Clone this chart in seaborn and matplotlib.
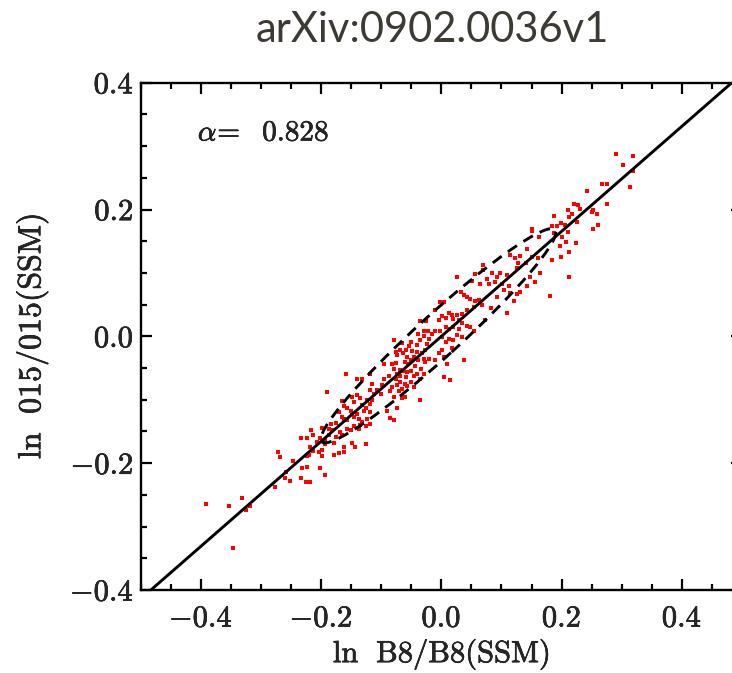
import matplotlib
matplotlib.use("Agg")
import matplotlib.pyplot as plt
import matplotlib.patheffects as pe
from matplotlib.patches import Ellipse
from matplotlib.ticker import MultipleLocator, FixedLocator, FixedFormatter
import seaborn as sns
import pandas as pd
import numpy as np

# ---------------- data ----------------
ln_b8 = [
    # lower-left tail
    -0.198, -0.216, -0.214, -0.233, -0.224, -0.206, -0.202, -0.194, -0.219, -0.198,
    -0.204, -0.214, -0.220, -0.224, -0.199, -0.272, -0.269, -0.246, -0.231, -0.223,
    -0.202, -0.193, -0.259, -0.260, -0.251, -0.234, -0.225, -0.219, -0.276, -0.392,
    -0.353, -0.332, -0.318, -0.325, -0.347,
    # lower-middle
    -0.035, -0.025, -0.029, -0.023, -0.039, -0.079, -0.065, -0.051, -0.029, -0.021,
    -0.035, -0.054, -0.040, -0.024, -0.069, -0.058, -0.048, -0.075, -0.063, -0.040,
    -0.027, -0.032, -0.073, -0.057, -0.046, -0.029, -0.021, -0.051, -0.039, -0.096,
    -0.082, -0.075, -0.061, -0.056, -0.027, -0.043, -0.079, -0.069, -0.063, -0.057,
    -0.051, -0.040, -0.034, -0.074, -0.159, -0.118, -0.087, -0.068, -0.058, -0.046,
    -0.029, -0.051, -0.140, -0.132, -0.096, -0.076, -0.068, -0.060, -0.035, -0.115,
    -0.099, -0.082, -0.073, -0.065, -0.057, -0.046, -0.190, -0.118, -0.107, -0.085,
    -0.071, -0.148, -0.140, -0.135, -0.112, -0.101, -0.079, -0.065, -0.060, -0.165,
    -0.146, -0.123, -0.115, -0.035, -0.162, -0.157, -0.132, -0.126, -0.118, -0.151,
    -0.090, -0.073, -0.171, -0.148, -0.140, -0.129, -0.118, -0.165, -0.146, -0.085,
    -0.184, -0.162, -0.157, -0.137, -0.132, -0.118, -0.079, -0.123, -0.176, -0.146,
    -0.135, -0.126, -0.187, -0.182, -0.168, -0.157, -0.151, -0.137, -0.187, -0.176,
    -0.165, -0.193, -0.179, -0.148, -0.143, -0.126, -0.162, -0.179, -0.171, -0.162,
    # centre / upper-middle
    0.151, 0.162, 0.142, 0.131, 0.115, 0.123, 0.151, 0.160, 0.128, 0.141,
    0.125, 0.109, 0.098, 0.092, 0.084, 0.070, 0.070, 0.056, 0.026, 0.051,
    0.065, 0.076, 0.079, 0.090, 0.101, 0.112, 0.104, 0.115, 0.131, 0.126,
    0.142, 0.156, 0.148, 0.121, 0.110, 0.073, 0.083, 0.092, 0.032, 0.037,
    0.043, 0.048, 0.056, 0.062, 0.068, 0.054, 0.043, 0.034, 0.026, 0.018,
    0.007, 0.001, -0.004, -0.010, -0.002, 0.004, 0.012, 0.020, 0.029, 0.034,
    0.043, 0.048, 0.054, 0.029, 0.020, 0.012, 0.007, -0.002, -0.010, -0.016,
    0.001, 0.007, 0.012, 0.020, 0.026, 0.034, 0.018, 0.001, -0.004, 0.004,
    -0.010, 0.009, 0.037, 0.004, 0.015,
    # upper-right tail
    0.290, 0.318, 0.302, 0.318, 0.267, 0.275, 0.313, 0.243, 0.275, 0.221,
    0.228, 0.230, 0.210, 0.217, 0.212, 0.188, 0.253, 0.250, 0.259, 0.225,
    0.199, 0.192, 0.206, 0.184, 0.253, 0.260, 0.210, 0.187, 0.200, 0.208,
    0.224, 0.197, 0.213, 0.184, 0.199, 0.164, 0.212, 0.180, 0.150,
]
ln_o15 = [
    # lower-left tail
    -0.144, -0.147, -0.155, -0.161, -0.161, -0.167, -0.160, -0.163, -0.175, -0.180,
    -0.183, -0.181, -0.187, -0.189, -0.189, -0.183, -0.190, -0.196, -0.207, -0.206,
    -0.208, -0.219, -0.214, -0.223, -0.228, -0.224, -0.229, -0.230, -0.237, -0.264,
    -0.267, -0.255, -0.267, -0.274, -0.334,
    # lower-middle
    0.024, 0.024, 0.008, 0.008, 0.004, -0.005, -0.010, -0.009, 0.001, -0.004,
    -0.005, -0.016, -0.014, -0.012, -0.021, -0.022, -0.023, -0.025, -0.027, -0.025,
    -0.022, -0.027, -0.030, -0.033, -0.033, -0.035, -0.035, -0.038, -0.037, -0.043,
    -0.043, -0.042, -0.040, -0.043, -0.040, -0.046, -0.051, -0.053, -0.055, -0.056,
    -0.054, -0.059, -0.051, -0.059, -0.060, -0.060, -0.062, -0.063, -0.064, -0.062,
    -0.059, -0.072, -0.067, -0.067, -0.068, -0.068, -0.072, -0.075, -0.067, -0.075,
    -0.077, -0.080, -0.077, -0.083, -0.079, -0.080, -0.087, -0.084, -0.085, -0.086,
    -0.086, -0.095, -0.093, -0.097, -0.091, -0.091, -0.096, -0.097, -0.095, -0.102,
    -0.104, -0.101, -0.101, -0.101, -0.110, -0.113, -0.109, -0.113, -0.107, -0.117,
    -0.117, -0.113, -0.119, -0.122, -0.123, -0.118, -0.119, -0.127, -0.127, -0.128,
    -0.138, -0.131, -0.132, -0.131, -0.135, -0.138, -0.132, -0.131, -0.137, -0.142,
    -0.140, -0.142, -0.146, -0.148, -0.151, -0.146, -0.148, -0.146, -0.156, -0.159,
    -0.156, -0.170, -0.168, -0.168, -0.174, -0.170, -0.174, -0.187, -0.184, -0.182,
    # centre / upper-middle
    0.166, 0.157, 0.138, 0.126, 0.129, 0.124, 0.125, 0.123, 0.115, 0.116,
    0.107, 0.096, 0.100, 0.094, 0.100, 0.112, 0.104, 0.099, 0.094, 0.088,
    0.083, 0.091, 0.083, 0.086, 0.083, 0.080, 0.073, 0.068, 0.070, 0.067,
    0.079, 0.086, 0.094, 0.056, 0.037, 0.025, 0.044, 0.062, 0.070, 0.065,
    0.062, 0.059, 0.056, 0.057, 0.050, 0.046, 0.041, 0.036, 0.033, 0.033,
    0.029, 0.032, 0.025, 0.041, 0.054, 0.054, 0.037, 0.028, 0.025, 0.021,
    0.017, 0.014, 0.009, 0.012, 0.015, 0.011, 0.015, 0.009, 0.009, 0.004,
    -0.001, -0.009, -0.004, -0.006, 0.002, -0.001, -0.019, -0.022, -0.026, -0.033,
    -0.038, -0.043, -0.038, -0.064, -0.069,
    # upper-right tail
    0.287, 0.285, 0.271, 0.261, 0.240, 0.240, 0.236, 0.230, 0.209, 0.209,
    0.207, 0.201, 0.200, 0.193, 0.189, 0.190, 0.199, 0.196, 0.193, 0.181,
    0.179, 0.174, 0.176, 0.174, 0.169, 0.175, 0.164, 0.163, 0.156, 0.149,
    0.147, 0.143, 0.133, 0.121, 0.125, 0.100, 0.094, 0.063, 0.169,
]

alpha_fit = 0.828
# confidence ellipse (centre, full axes, tilt)
ell_center = (-0.005, 0.001)
ell_width, ell_height, ell_angle = 0.512, 0.068, 40.7

x_ticks = [-0.4, -0.2, 0.0, 0.2, 0.4]
x_tick_labels = [r"$-0.4$", r"$-0.2$", r"$0.0$", r"$0.2$", r"$0.4$"]
y_ticks = [-0.4, -0.2, 0.0, 0.2, 0.4]
y_tick_labels = [r"$-0.4$", r"$-0.2$", r"$0.0$", r"$0.2$", r"$0.4$"]

# ---------------- drawing ----------------
sns.set_style("ticks")
plt.rcParams["mathtext.fontset"] = "cm"
plt.rcParams["font.family"] = ["cmr10", "DejaVu Sans"]
plt.rcParams["axes.unicode_minus"] = False

bold = [pe.withStroke(linewidth=0.45, foreground="black")]

fig = plt.figure(figsize=(7.32, 6.73), dpi=100)
W, H = 732.0, 673.0
ax = fig.add_axes([140.7 / W, (H - 590.0) / H, 601.3 / W, 507.3 / H])

df = pd.DataFrame({"b8": ln_b8, "o15": ln_o15})
sns.scatterplot(data=df, x="b8", y="o15", ax=ax, color="#ff0000", marker="s",
                s=12, linewidth=0, zorder=3)

xl = np.array([-0.5, 0.5])
ax.plot(xl, alpha_fit * xl, color="black", lw=2.1, zorder=4)

ell = Ellipse(ell_center, ell_width, ell_height, angle=ell_angle, fill=False,
              edgecolor="black", lw=2.1, linestyle=(0, (3.8, 2.6)), zorder=5)
ax.add_patch(ell)

ax.set_xlim(-0.5, 0.5)
ax.set_ylim(-0.4, 0.4)
ax.xaxis.set_major_locator(FixedLocator(x_ticks))
ax.xaxis.set_major_formatter(FixedFormatter(x_tick_labels))
ax.yaxis.set_major_locator(FixedLocator(y_ticks))
ax.yaxis.set_major_formatter(FixedFormatter(y_tick_labels))
ax.xaxis.set_minor_locator(MultipleLocator(0.05))
ax.yaxis.set_minor_locator(MultipleLocator(0.05))
ax.tick_params(which="both", direction="in", top=True, right=True, width=1.6,
               labelsize=22, color="black")
ax.tick_params(which="major", length=8)
ax.tick_params(which="minor", length=4.2)
ax.tick_params(axis="x", pad=11)
ax.tick_params(axis="y", pad=5)
for lab in ax.get_xticklabels() + ax.get_yticklabels():
    lab.set_path_effects(bold)
for sp in ax.spines.values():
    sp.set_linewidth(1.7)
    sp.set_color("black")

ax.set_xlabel(r"$\mathrm{ln\ \ B8/B8(SSM)}$", fontsize=22, labelpad=3)
ax.set_ylabel(r"$\mathrm{ln\ \ 015/015(SSM)}$", fontsize=23, labelpad=14)
ax.xaxis.label.set_path_effects(bold)
ax.yaxis.label.set_path_effects(bold)

ax.text(-0.405, 0.32, r"$\alpha\!=\ \ 0.828$", fontsize=21, va="center", ha="left",
        path_effects=bold)

fig.text(432 / W, 1 - 30 / H, "arXiv:0902.0036v1", ha="center", va="center",
         fontsize=30, color="#3d3a33", family=["Lato", "DejaVu Sans"])

fig.savefig("out.png", dpi=100)
